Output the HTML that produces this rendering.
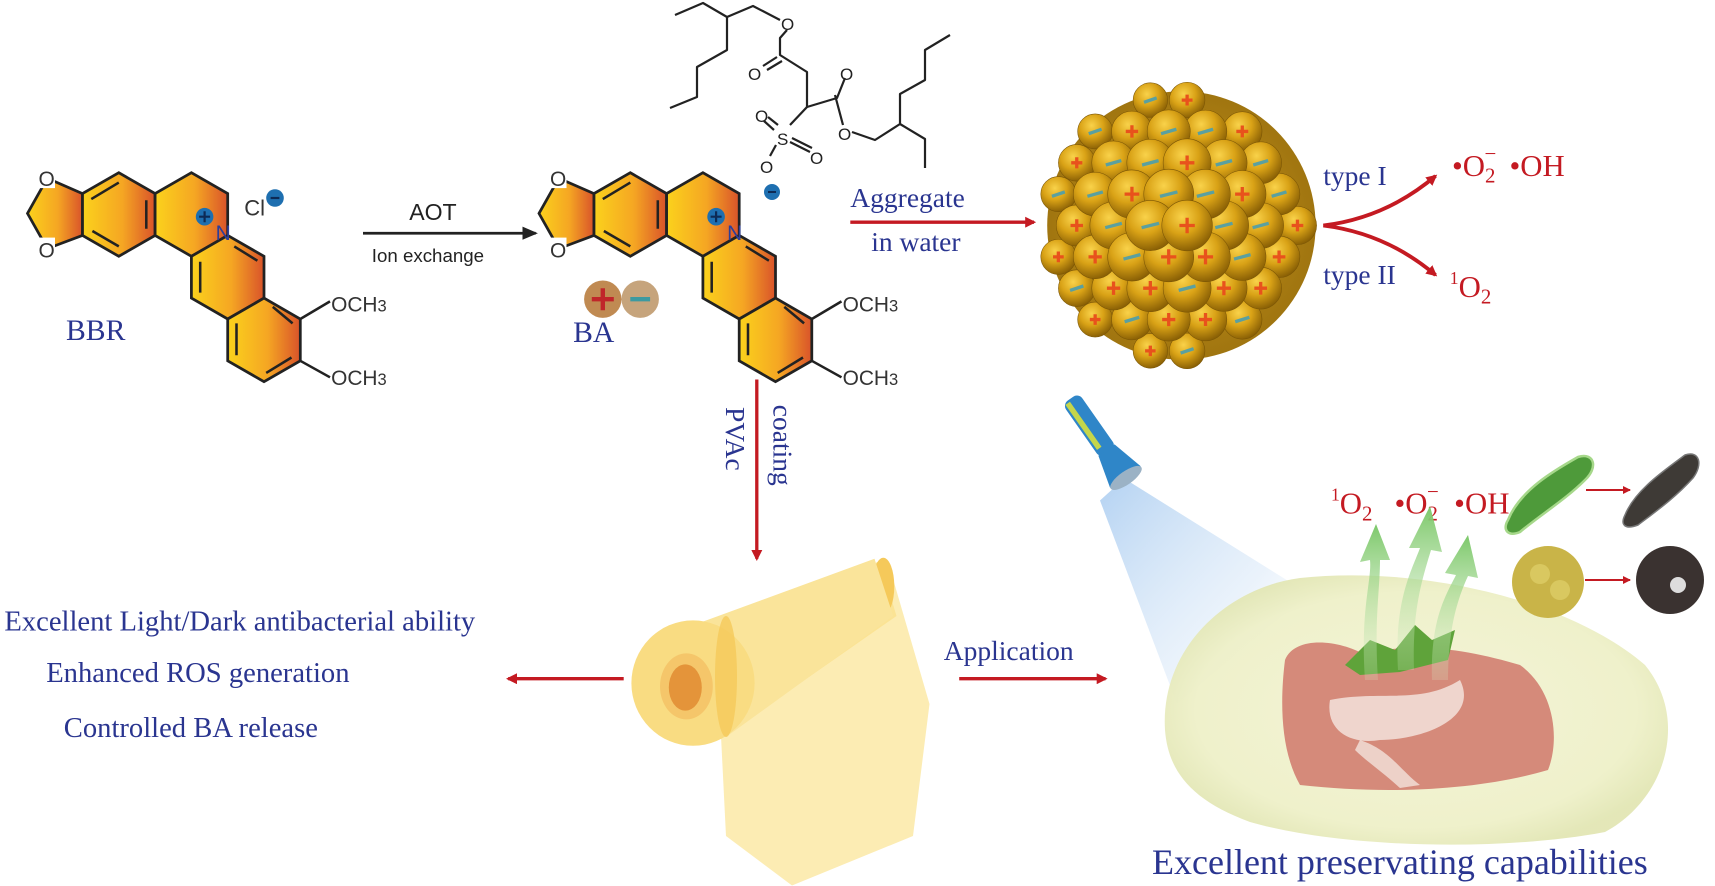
<!DOCTYPE html>
<html><head><meta charset="utf-8"><style>
html,body{margin:0;padding:0;background:#fff;}
svg{display:block}
.s{font-family:"Liberation Serif",serif;}
.a{font-family:"Liberation Sans",sans-serif;}
</style></head><body>
<svg id="sv" width="1715" height="886" viewBox="0 0 1715 886" xmlns="http://www.w3.org/2000/svg">
<defs>
<linearGradient id="rg" x1="0" y1="0" x2="1" y2="0">
<stop offset="0" stop-color="#fbd21c"/><stop offset="0.55" stop-color="#f5a623"/><stop offset="1" stop-color="#d9532a"/></linearGradient>
<radialGradient id="sp" cx="0.4" cy="0.33" r="0.68">
<stop offset="0" stop-color="#f9d24a"/><stop offset="0.5" stop-color="#d9a216"/><stop offset="1" stop-color="#8a6005"/></radialGradient>
<radialGradient id="ball" cx="0.5" cy="0.5" r="0.5">
<stop offset="0" stop-color="#c9961a"/><stop offset="1" stop-color="#a07510"/></radialGradient>
<radialGradient id="plate" cx="0.5" cy="0.5" r="0.55">
<stop offset="0" stop-color="#f4f3d6"/><stop offset="0.8" stop-color="#eef0c8"/><stop offset="1" stop-color="#e2e6b4"/></radialGradient>
<linearGradient id="light" x1="0" y1="0" x2="1" y2="1">
<stop offset="0" stop-color="#9cc4ee" stop-opacity="0.9"/><stop offset="0.6" stop-color="#cfe2f6" stop-opacity="0.5"/><stop offset="1" stop-color="#fff" stop-opacity="0"/></linearGradient>
<linearGradient id="garr" x1="0" y1="1" x2="0" y2="0">
<stop offset="0" stop-color="#d8eec8" stop-opacity="0.2"/><stop offset="1" stop-color="#7cc86a"/></linearGradient>
<marker id="rh" markerWidth="10" markerHeight="10" refX="8" refY="5" orient="auto" markerUnits="userSpaceOnUse" viewBox="0 0 10 10"><path d="M0,0 L10,5 L0,10 Z" fill="#c41a22"/></marker>
<marker id="rs" markerWidth="8" markerHeight="8" refX="7" refY="4" orient="auto" markerUnits="userSpaceOnUse" viewBox="0 0 8 8"><path d="M0,0 L8,4 L0,8 Z" fill="#c41a22"/></marker>
<marker id="bh" markerWidth="14" markerHeight="12" refX="12" refY="6" orient="auto" markerUnits="userSpaceOnUse"><path d="M0,0 L14,6 L0,12 Z" fill="#222"/></marker>
<g id="mol">
 <path d="M75,176 L43,162 L25,194 L43,226 L75,214 Z" fill="url(#rg)" stroke="#222" stroke-width="2.5"/>
 <polygon points="108,157 141,176 141,214 108,233 75,214 75,176" fill="url(#rg)" stroke="#222" stroke-width="2.5"/>
 <polygon points="174,157 207,176 207,214 174,233 141,214 141,176" fill="url(#rg)" stroke="#222" stroke-width="2.5"/>
 <polygon points="207,214 240,233 240,271 207,290 174,271 174,233" fill="url(#rg)" stroke="#222" stroke-width="2.5"/>
 <polygon points="240,271 273,290 273,328 240,347 207,328 207,290" fill="url(#rg)" stroke="#222" stroke-width="2.5"/>
 <path d="M83,181 L108,166 M133,182 L133,208 M84,210 L108,224 M182,238 L182,266 M213,224 L234,237 M248,279 L266,294 M215,294 L215,323 M242,339 L265,325" stroke="#222" stroke-width="2.3" fill="none"/>
 <path d="M273,290 L300,274 M273,328 L300,343" stroke="#222" stroke-width="2.3"/>
 <rect x="36" y="151" width="14" height="20" fill="#fff"/><rect x="36" y="216" width="14" height="20" fill="#fff"/>
 <text x="35" y="169" class="a" font-size="19" fill="#333">O</text>
 <text x="35" y="234" class="a" font-size="19" fill="#333">O</text>
 <text x="301" y="283" class="a" font-size="19" fill="#333">OCH<tspan font-size="15">3</tspan></text>
 <text x="301" y="350" class="a" font-size="19" fill="#333">OCH<tspan font-size="15">3</tspan></text>
 <text x="196" y="218" class="a" font-size="19" fill="#2c3e9a">N</text>
 <circle cx="186" cy="197" r="8" fill="#1e6fb0"/><path d="M181,197 H191 M186,192 V202" stroke="#0d2a55" stroke-width="2"/>
</g>
</defs>

<g transform="scale(1.1)">
<use href="#mol"/>
<text x="222" y="196" class="a" font-size="20" fill="#333">Cl</text>
<circle cx="250" cy="180" r="8" fill="#1e6fb0"/><path d="M246,180 H254" stroke="#0d2a55" stroke-width="2"/>
<text x="60" y="309" class="s" font-size="27" fill="#2a3590">BBR</text>

<text x="372" y="200" class="a" font-size="21" fill="#222">AOT</text>
<line x1="330" y1="212" x2="487" y2="212" stroke="#222" stroke-width="2.5" marker-end="url(#bh)"/>
<text x="338" y="238" class="a" font-size="17" fill="#222">Ion exchange</text>

<use href="#mol" x="465" y="0"/>
<circle cx="548" cy="272" r="17" fill="#c08a52"/>
<path d="M538,272 H558 M548,262 V282" stroke="#c0262a" stroke-width="4"/>
<circle cx="582" cy="272" r="17" fill="#c6a47c"/>
<path d="M573,272 H591" stroke="#3d9aa0" stroke-width="4"/>
<text x="521" y="311" class="s" font-size="27" fill="#2a3590">BA</text>

<text x="773" y="188" class="s" font-size="25" fill="#2a3590">Aggregate</text>
<text x="792" y="228" class="s" font-size="25" fill="#2a3590">in water</text>
<line x1="773" y1="202" x2="940" y2="202" stroke="#c41a22" stroke-width="3" marker-end="url(#rh)"/>

<circle cx="1074" cy="205" r="122" fill="url(#ball)"/>
<g id="np"></g>

<path d="M1203,205 Q1260,198 1305,160" stroke="#c41a22" stroke-width="3.5" fill="none" marker-end="url(#rh)"/>
<path d="M1203,205 Q1260,212 1305,250" stroke="#c41a22" stroke-width="3.5" fill="none" marker-end="url(#rh)"/>
<text x="1203" y="168" class="s" font-size="25" fill="#2a3590">type I</text>
<text x="1203" y="258" class="s" font-size="25" fill="#2a3590">type II</text>
<text x="1320" y="160" class="s" font-size="28" fill="#c41a22">•O<tspan font-size="19" dy="6">2</tspan><tspan dy="-20" dx="-10" font-size="19">−</tspan><tspan dy="14" dx="12">•OH</tspan></text>
<text x="1318" y="270" class="s" font-size="28" fill="#c41a22"><tspan font-size="16" dy="-12">1</tspan><tspan dy="12">O</tspan><tspan font-size="19" dy="6">2</tspan></text>

<line x1="688" y1="345" x2="688" y2="508" stroke="#c41a22" stroke-width="3" marker-end="url(#rh)"/>
<text transform="translate(660,370) rotate(90)" class="s" font-size="25" fill="#2a3590">PVAc</text>
<text transform="translate(703,368) rotate(90)" class="s" font-size="25" fill="#2a3590">coating</text>

<path d="M700,560 L810,520 L845,640 L830,760 L720,805 L660,760 L655,660 Z" fill="#fbe9a6" opacity="0.85"/>
<path d="M640,580 L800,510 L815,560 L660,668 Z" fill="#fbe394"/>
<ellipse cx="803" cy="533" rx="10" ry="26" fill="#f5c95a"/>
<path d="M612,575 L795,508 L812,560 L660,670 Z" fill="#fae49a"/>
<ellipse cx="630" cy="621" rx="56" ry="57" fill="#f9dc82"/>
<ellipse cx="660" cy="615" rx="10" ry="55" fill="#f5c95a" opacity="0.8"/>
<ellipse cx="624" cy="624" rx="24" ry="30" fill="#f5c66a"/>
<ellipse cx="623" cy="625" rx="15" ry="21" fill="#e4943a"/>

<text x="4" y="573" class="s" font-size="26" fill="#2a3590">Excellent Light/Dark antibacterial ability</text>
<text x="42" y="620" class="s" font-size="26" fill="#2a3590">Enhanced ROS generation</text>
<text x="58" y="670" class="s" font-size="26" fill="#2a3590">Controlled BA release</text>
<line x1="567" y1="617" x2="462" y2="617" stroke="#c41a22" stroke-width="3" marker-end="url(#rh)"/>

<text x="858" y="600" class="s" font-size="25" fill="#2a3590">Application</text>
<line x1="872" y1="617" x2="1005" y2="617" stroke="#c41a22" stroke-width="3" marker-end="url(#rh)"/>

<path d="M1022,435 L1000,455 L1070,640 L1190,540 Z" fill="url(#light)" opacity="0.85"/>
<g transform="translate(1003,405) rotate(-35)">
<rect x="-9" y="-52" width="18" height="60" rx="6" fill="#2f86c8"/>
<rect x="-7" y="-50" width="5" height="50" fill="#c5d64a"/>
<path d="M-9,5 L-17,35 L17,35 L9,5 Z" fill="#2f86c8"/>
<ellipse cx="0" cy="36" rx="17" ry="6" fill="#9bb2c5"/>
</g>
<text x="1210" y="467" class="s" font-size="28" fill="#c41a22"><tspan font-size="16" dy="-12">1</tspan><tspan dy="12">O</tspan><tspan font-size="19" dy="6">2</tspan><tspan dy="-6" dx="20">•O</tspan><tspan font-size="19" dy="6">2</tspan><tspan dy="-20" dx="-10" font-size="19">−</tspan><tspan dy="14" dx="14">•OH</tspan></text>
</g>

<g stroke="#222" stroke-width="2.2" fill="none" stroke-linejoin="round">
<path d="M675,15 L703,3 L727,17 L753,6 L780,20"/>
<path d="M727,17 L727,50 L697,67 L697,97 L670,108"/>
<path d="M787,30 L780,38 L780,55 L807,72 L807,107 L837,98 L845,78"/>
<path d="M777,57 L763,66 M782,61 L767,70"/>
<path d="M835,95 L843,125"/>
<path d="M807,107 L790,125"/>
<path d="M778,125 L768,117 M774,130 L764,121"/>
<path d="M790,142 L810,152 M792,138 L812,148"/>
<path d="M776,145 L770,156"/>
<path d="M852,132 L875,140 L900,124 L900,94 L925,80 L925,50 L950,35"/>
<path d="M900,124 L925,139 L925,168"/>
</g>
<g class="a" font-size="17" fill="#222">
<text x="781" y="30">O</text>
<text x="748" y="80">O</text>
<text x="840" y="80">O</text>
<text x="838" y="140">O</text>
<text x="777" y="145">S</text>
<text x="755" y="122">O</text>
<text x="810" y="164">O</text>
<text x="760" y="173">O</text>
</g>
<circle cx="772" cy="192" r="8" fill="#1e6fb0"/><path d="M768,192 H776" stroke="#0d2a55" stroke-width="2"/>

<path d="M1165,730 C1160,650 1225,588 1300,578 C1420,565 1570,600 1645,665 C1690,720 1665,800 1605,832 C1500,852 1340,848 1250,822 C1190,800 1168,770 1165,730 Z" fill="url(#plate)" opacity="0.95"/>
<path d="M1285,660 C1295,635 1340,640 1365,655 C1410,640 1470,650 1520,665 C1555,690 1560,740 1548,770 C1480,790 1390,795 1300,785 C1280,750 1280,700 1285,660 Z" fill="#d58a7a"/>
<path d="M1330,700 C1380,690 1420,705 1460,680 C1480,720 1420,740 1380,740 C1350,745 1325,730 1330,700 Z" fill="#f3e2dc" opacity="0.85"/>
<path d="M1360,740 C1390,750 1400,770 1420,785 L1400,788 C1380,770 1365,760 1355,750 Z" fill="#f3e2dc" opacity="0.8"/>
<path d="M1345,665 L1370,640 L1395,650 L1415,625 L1432,640 L1455,630 L1448,660 L1400,672 L1360,675 Z" fill="#5fa33a"/>
<g fill="url(#garr)">
<path d="M1365,680 C1360,610 1372,580 1370,560 L1360,562 L1376,524 L1390,560 L1380,560 C1380,590 1374,620 1378,680 Z"/>
<path d="M1398,670 C1394,600 1412,570 1420,548 L1409,548 L1430,506 L1442,552 L1431,550 C1422,580 1412,610 1414,670 Z"/>
<path d="M1432,680 C1430,620 1446,595 1456,575 L1445,573 L1468,535 L1478,578 L1468,576 C1457,600 1448,630 1448,680 Z"/>
</g>
<path d="M1508,520 C1520,490 1555,470 1578,457 C1595,452 1598,468 1585,480 C1565,500 1540,515 1520,532 C1508,537 1502,530 1508,520 Z" fill="#4e9a3a" stroke="#a6d88a" stroke-width="2.5"/>
<line x1="1586" y1="490" x2="1630" y2="490" stroke="#c41a22" stroke-width="2" marker-end="url(#rs)"/>
<path d="M1625,515 C1635,490 1665,470 1685,455 C1700,450 1703,465 1693,478 C1675,498 1655,512 1638,525 C1625,530 1620,525 1625,515 Z" fill="#3e3a36" stroke="#777" stroke-width="1.5"/>
<circle cx="1548" cy="582" r="36" fill="#c9b448"/>
<circle cx="1540" cy="574" r="10" fill="#d9c860"/><circle cx="1560" cy="590" r="10" fill="#d9c860"/>
<line x1="1585" y1="580" x2="1630" y2="580" stroke="#c41a22" stroke-width="2" marker-end="url(#rs)"/>
<circle cx="1670" cy="580" r="34" fill="#3a3230"/>
<circle cx="1678" cy="585" r="8" fill="#ddd"/>

<text x="1152" y="874" class="s" font-size="36" fill="#2a3590">Excellent preservating capabilities</text>
</svg>
<script>
(function(){
var g=document.getElementById('np'),cx=1074,cy=205,R=122,r=19,list=[];
for(var row=-8;row<=8;row++){
 var y=cy+row*r*1.5;
 var off=(Math.abs(row)%2)?r*0.88:0;
 for(var x=cx-R-40+off;x<=cx+R+40;x+=r*1.76){
  var d=Math.hypot(x-cx,y-cy);
  if(d>R-3) continue;
  list.push([x,y,d]);
 }
}
list.sort(function(a,b){return b[2]-a[2];});
var s='';
for(var i=0;i<list.length;i++){
 var x=list[i][0],y=list[i][1],d=list[i][2];
 var f=1-0.35*Math.pow(d/R,2.5);
 var rr=(r+4)*f;
 s+='<circle cx="'+x.toFixed(1)+'" cy="'+y.toFixed(1)+'" r="'+rr.toFixed(1)+'" fill="url(#sp)" stroke="#7a5505" stroke-width="0.5"/>';
 var m=7*f;
 if((Math.round(x/10)+Math.round(y/10))%2){s+='<path d="M'+(x-m)+','+y+' H'+(x+m)+' M'+x+','+(y-m)+' V'+(y+m)+'" stroke="#e8521c" stroke-width="3"/>';}
 else{s+='<path d="M'+(x-m-1)+','+(y+2)+' L'+(x+m+1)+','+(y-2)+'" stroke="#5aa0a0" stroke-width="3"/>';}
}
g.innerHTML=s;
})();
</script>
</body></html>
